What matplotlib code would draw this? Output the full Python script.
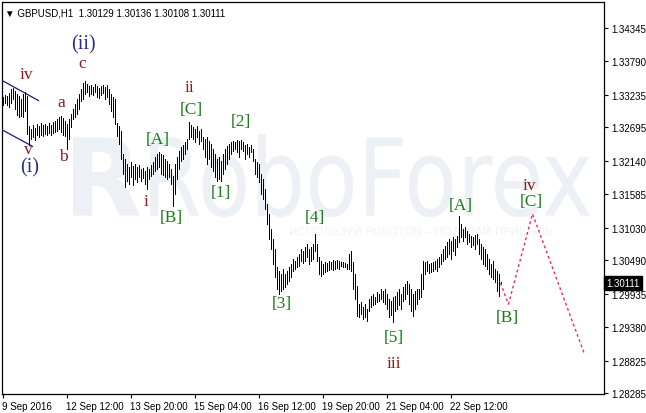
import numpy as np
import matplotlib.pyplot as plt
import matplotlib.transforms as mtransforms
from matplotlib.textpath import TextPath
from matplotlib.patches import PathPatch
from matplotlib.font_manager import FontProperties

# GBPUSD H1, bar highs / lows
highs = [1.3320, 1.3323, 1.3322, 1.3327, 1.3333, 1.3335, 1.3330, 1.3325, 1.3322, 1.3317,
         1.3325, 1.3328, 1.3322, 1.3272, 1.3267, 1.3273, 1.3269, 1.3275, 1.3272, 1.3277,
         1.3273, 1.3275, 1.3272, 1.3277, 1.3273, 1.3278, 1.3280, 1.3283, 1.3287, 1.3288,
         1.3285, 1.3280, 1.3275, 1.3283, 1.3292, 1.3300, 1.3308, 1.3317, 1.3325, 1.3333,
         1.3343, 1.3347, 1.3342, 1.3338, 1.3340, 1.3337, 1.3342, 1.3338, 1.3335, 1.3338,
         1.3340, 1.3337, 1.3340, 1.3333, 1.3325, 1.3320, 1.3317, 1.3277, 1.3272, 1.3264,
         1.3225, 1.3217, 1.3209, 1.3204, 1.3212, 1.3205, 1.3209, 1.3204, 1.3207, 1.3200,
         1.3202, 1.3197, 1.3204, 1.3200, 1.3207, 1.3212, 1.3220, 1.3225, 1.3229, 1.3225,
         1.3224, 1.3217, 1.3214, 1.3209, 1.3200, 1.3189, 1.3209, 1.3220, 1.3230, 1.3237,
         1.3240, 1.3245, 1.3250, 1.3278, 1.3273, 1.3270, 1.3267, 1.3272, 1.3264, 1.3267,
         1.3254, 1.3250, 1.3254, 1.3247, 1.3242, 1.3234, 1.3225, 1.3217, 1.3220, 1.3214,
         1.3225, 1.3234, 1.3239, 1.3242, 1.3245, 1.3247, 1.3245, 1.3249, 1.3247, 1.3249,
         1.3245, 1.3240, 1.3242, 1.3237, 1.3240, 1.3234, 1.3217, 1.3212, 1.3209, 1.3192,
         1.3184, 1.3167, 1.3142, 1.3126, 1.3101, 1.3084, 1.3068, 1.3038, 1.3031, 1.3026,
         1.3034, 1.3026, 1.3031, 1.3038, 1.3043, 1.3051, 1.3048, 1.3054, 1.3059, 1.3068,
         1.3064, 1.3071, 1.3076, 1.3068, 1.3071, 1.3076, 1.3093, 1.3076, 1.3054, 1.3048,
         1.3043, 1.3046, 1.3044, 1.3048, 1.3046, 1.3049, 1.3048, 1.3049, 1.3048, 1.3046,
         1.3046, 1.3044, 1.3043, 1.3059, 1.3064, 1.3046, 1.3026, 1.3006, 1.2976, 1.2980,
         1.2971, 1.2976, 1.2968, 1.2985, 1.2990, 1.2993, 1.2988, 1.2996, 1.2993, 1.3001,
         1.2998, 1.3001, 1.2993, 1.2985, 1.2981, 1.2988, 1.2990, 1.2996, 1.3001, 1.2993,
         1.3005, 1.3010, 1.3014, 1.3010, 1.3001, 1.2993, 1.2998, 1.3001, 1.3001, 1.3026,
         1.3048, 1.3046, 1.3048, 1.3043, 1.3044, 1.3046, 1.3048, 1.3051, 1.3054, 1.3059,
         1.3068, 1.3073, 1.3079, 1.3084, 1.3081, 1.3088, 1.3084, 1.3089, 1.3122, 1.3109,
         1.3101, 1.3104, 1.3098, 1.3093, 1.3089, 1.3088, 1.3091, 1.3093, 1.3084, 1.3076,
         1.3071, 1.3068, 1.3059, 1.3051, 1.3043, 1.3048, 1.3034, 1.3031, 1.3026, 1.30136]
lows = [1.3307, 1.3310, 1.3307, 1.3303, 1.3310, 1.3317, 1.3300, 1.3290, 1.3287, 1.3288,
        1.3287, 1.3297, 1.3259, 1.3240, 1.3250, 1.3254, 1.3249, 1.3257, 1.3254, 1.3257,
        1.3255, 1.3259, 1.3257, 1.3260, 1.3257, 1.3260, 1.3262, 1.3264, 1.3267, 1.3262,
        1.3257, 1.3255, 1.3234, 1.3250, 1.3270, 1.3283, 1.3287, 1.3292, 1.3300, 1.3313,
        1.3317, 1.3325, 1.3328, 1.3322, 1.3325, 1.3323, 1.3328, 1.3320, 1.3318, 1.3323,
        1.3327, 1.3317, 1.3320, 1.3308, 1.3297, 1.3287, 1.3275, 1.3255, 1.3242, 1.3217,
        1.3192, 1.3170, 1.3180, 1.3175, 1.3187, 1.3174, 1.3184, 1.3179, 1.3187, 1.3180,
        1.3185, 1.3176, 1.3167, 1.3184, 1.3189, 1.3192, 1.3197, 1.3200, 1.3204, 1.3192,
        1.3190, 1.3187, 1.3184, 1.3187, 1.3176, 1.3139, 1.3159, 1.3184, 1.3200, 1.3214,
        1.3217, 1.3225, 1.3234, 1.3250, 1.3254, 1.3250, 1.3245, 1.3254, 1.3242, 1.3247,
        1.3234, 1.3220, 1.3209, 1.3217, 1.3204, 1.3197, 1.3187, 1.3180, 1.3184, 1.3180,
        1.3192, 1.3200, 1.3209, 1.3217, 1.3225, 1.3230, 1.3234, 1.3229, 1.3220, 1.3234,
        1.3230, 1.3217, 1.3225, 1.3220, 1.3229, 1.3214, 1.3192, 1.3187, 1.3179, 1.3159,
        1.3151, 1.3134, 1.3109, 1.3084, 1.3068, 1.3043, 1.3021, 1.3001, 1.2993, 1.2998,
        1.3001, 1.3004, 1.3009, 1.3014, 1.3021, 1.3031, 1.3034, 1.3038, 1.3039, 1.3048,
        1.3044, 1.3048, 1.3054, 1.3043, 1.3048, 1.3051, 1.3064, 1.3048, 1.3026, 1.3023,
        1.3026, 1.3029, 1.3031, 1.3033, 1.3034, 1.3033, 1.3034, 1.3036, 1.3034, 1.3039,
        1.3038, 1.3038, 1.3034, 1.3034, 1.3031, 1.3001, 1.2985, 1.2956, 1.2955, 1.2960,
        1.2951, 1.2955, 1.2948, 1.2965, 1.2971, 1.2975, 1.2976, 1.2980, 1.2981, 1.2985,
        1.2980, 1.2976, 1.2968, 1.2955, 1.2958, 1.2946, 1.2965, 1.2968, 1.2975, 1.2968,
        1.2981, 1.2985, 1.2993, 1.2976, 1.2965, 1.2956, 1.2968, 1.2976, 1.2985, 1.2988,
        1.3001, 1.3026, 1.3031, 1.3028, 1.3029, 1.3031, 1.3034, 1.3031, 1.3038, 1.3043,
        1.3048, 1.3051, 1.3054, 1.3059, 1.3051, 1.3064, 1.3058, 1.3071, 1.3079, 1.3088,
        1.3081, 1.3088, 1.3076, 1.3079, 1.3071, 1.3074, 1.3068, 1.3076, 1.3059, 1.3051,
        1.3043, 1.3039, 1.3034, 1.3026, 1.3021, 1.3018, 1.3013, 1.2998, 1.2990, 1.30108]
last_close = 1.30111

price_ticks = [1.34345, 1.33790, 1.33235, 1.32695, 1.32140, 1.31585,
               1.31030, 1.30490, 1.29935, 1.29380, 1.28825, 1.28285]
date_pos = [0, 32, 64, 96, 128, 160, 192, 224]
date_labels = ['9 Sep 2016', '12 Sep 12:00', '13 Sep 20:00', '15 Sep 04:00',
               '16 Sep 12:00', '19 Sep 20:00', '21 Sep 04:00', '22 Sep 12:00']

# forecast path (bar index, price)
fc_x = [249, 253, 265, 291]
fc_y = [last_close, 1.2976, 1.3126, 1.2893]

# channel lines on the left
ch_x = [[0, 18], [0, 15]]
ch_y = [[1.3347, 1.3314], [1.3265, 1.3238]]

# wave labels: text, bar index, price, colour
RED = '#8b1a1a'
GRN = '#1d7a1d'
BLU = '#2e2e86'
waves = [('iv', 12, 1.3358, RED), ('a', 29.5, 1.3312, RED), ('b', 30.5, 1.3222, RED),
         ('c', 40, 1.3376, RED), ('(ii)', 40.5, 1.3408, BLU), ('v', 13, 1.3234, RED),
         ('(i)', 13.5, 1.3204, BLU), ('ii', 93.5, 1.3336, RED), ('[C]', 94.5, 1.3300, GRN),
         ('[A]', 77.5, 1.3250, GRN), ('i', 72, 1.3147, RED), ('[B]', 84.5, 1.3120, GRN),
         ('[2]', 119, 1.3280, GRN), ('[1]', 109, 1.3162, GRN), ('[4]', 156, 1.3120, GRN),
         ('[3]', 139.5, 1.2978, GRN), ('[5]', 195.5, 1.2922, GRN), ('iii', 195.5, 1.2878, RED),
         ('[A]', 229, 1.3141, GRN), ('[C]', 264.5, 1.3147, GRN), ('iv', 263.5, 1.3174, RED),
         ('[B]', 252.5, 1.2955, GRN)]

W, H = 646, 414
fig = plt.figure(figsize=(W / 100, H / 100), dpi=100)
ax = fig.add_axes([2 / W, 19 / H, 602 / W, 392 / H])
ax.set_xlim(-0.25, 300.75)
ax.set_ylim(1.28269, 1.34776)


def watermark(text, x0, x1, base, cap, bold=False):
    # squeeze a text path into a box given in axes fractions
    fp = FontProperties(family='DejaVu Sans', weight='bold' if bold else 'normal')
    tp = TextPath((0, 0), text, size=1, prop=fp)
    ext = tp.get_extents()
    sx = (x1 - x0) / ext.width
    sy = cap / 0.73
    tr = mtransforms.Affine2D().translate(-ext.x0, 0).scale(sx, sy).translate(x0, base)
    ax.add_patch(PathPatch(tp, transform=tr + ax.transAxes, fc='#edf0f5', ec='none', zorder=0))


watermark('RoboForex', 0.246, 0.977, 0.455, 0.20)
watermark('R', 0.118, 0.229, 0.455, 0.20, bold=True)
ax.text(0.696, 0.415, 'ИСПОЛЬЗУЙ РОБОТОВ – ПОЛУЧАЙ ПРИБЫЛЬ', transform=ax.transAxes,
        ha='center', va='center', fontsize=8.2, color='#f1f3f6', zorder=0)

x = np.arange(len(highs))
ax.vlines(x, lows, highs, color='black', linewidth=0.72, antialiased=False, zorder=3)

ax.plot(fc_x, fc_y, color='#e0305a', linestyle=(0, (2, 2)), linewidth=1.0, zorder=3)
for cx, cy in zip(ch_x, ch_y):
    ax.plot(cx, cy, color='#1a1a80', linewidth=0.9, zorder=3)

for txt, wx, wy, col in waves:
    size = 14.5 if txt.startswith('(') else 12.5
    ax.text(wx, wy, txt, color=col, fontsize=size, ha='center', va='center',
            family='Liberation Serif', zorder=4)

ax.text(0.005, 0.985, '\u25bc GBPUSD,H1  1.30129 1.30136 1.30108 1.30111', transform=ax.transAxes,
        ha='left', va='top', fontsize=7, color='black', family=['Liberation Sans', 'DejaVu Sans'])

ax.yaxis.tick_right()
ax.set_yticks(price_ticks)
ax.set_yticklabels(['%.5f' % p for p in price_ticks], fontsize=7, family='Liberation Sans')
ax.set_xticks(date_pos)
ax.set_xticklabels(date_labels, fontsize=7, ha='left', family='Liberation Sans')
ax.tick_params(axis='both', length=3, width=0.8, pad=2)
for s in ax.spines.values():
    s.set_linewidth(0.9)

trans = mtransforms.blended_transform_factory(ax.transAxes, ax.transData)
ax.text(1.004, last_close, '%.5f' % last_close, transform=trans, ha='left', va='center',
        fontsize=7, color='white', zorder=5, family='Liberation Sans',
        bbox=dict(boxstyle='square,pad=0.2', fc='black', ec='black'))

fig.savefig('out.png', dpi=100)
